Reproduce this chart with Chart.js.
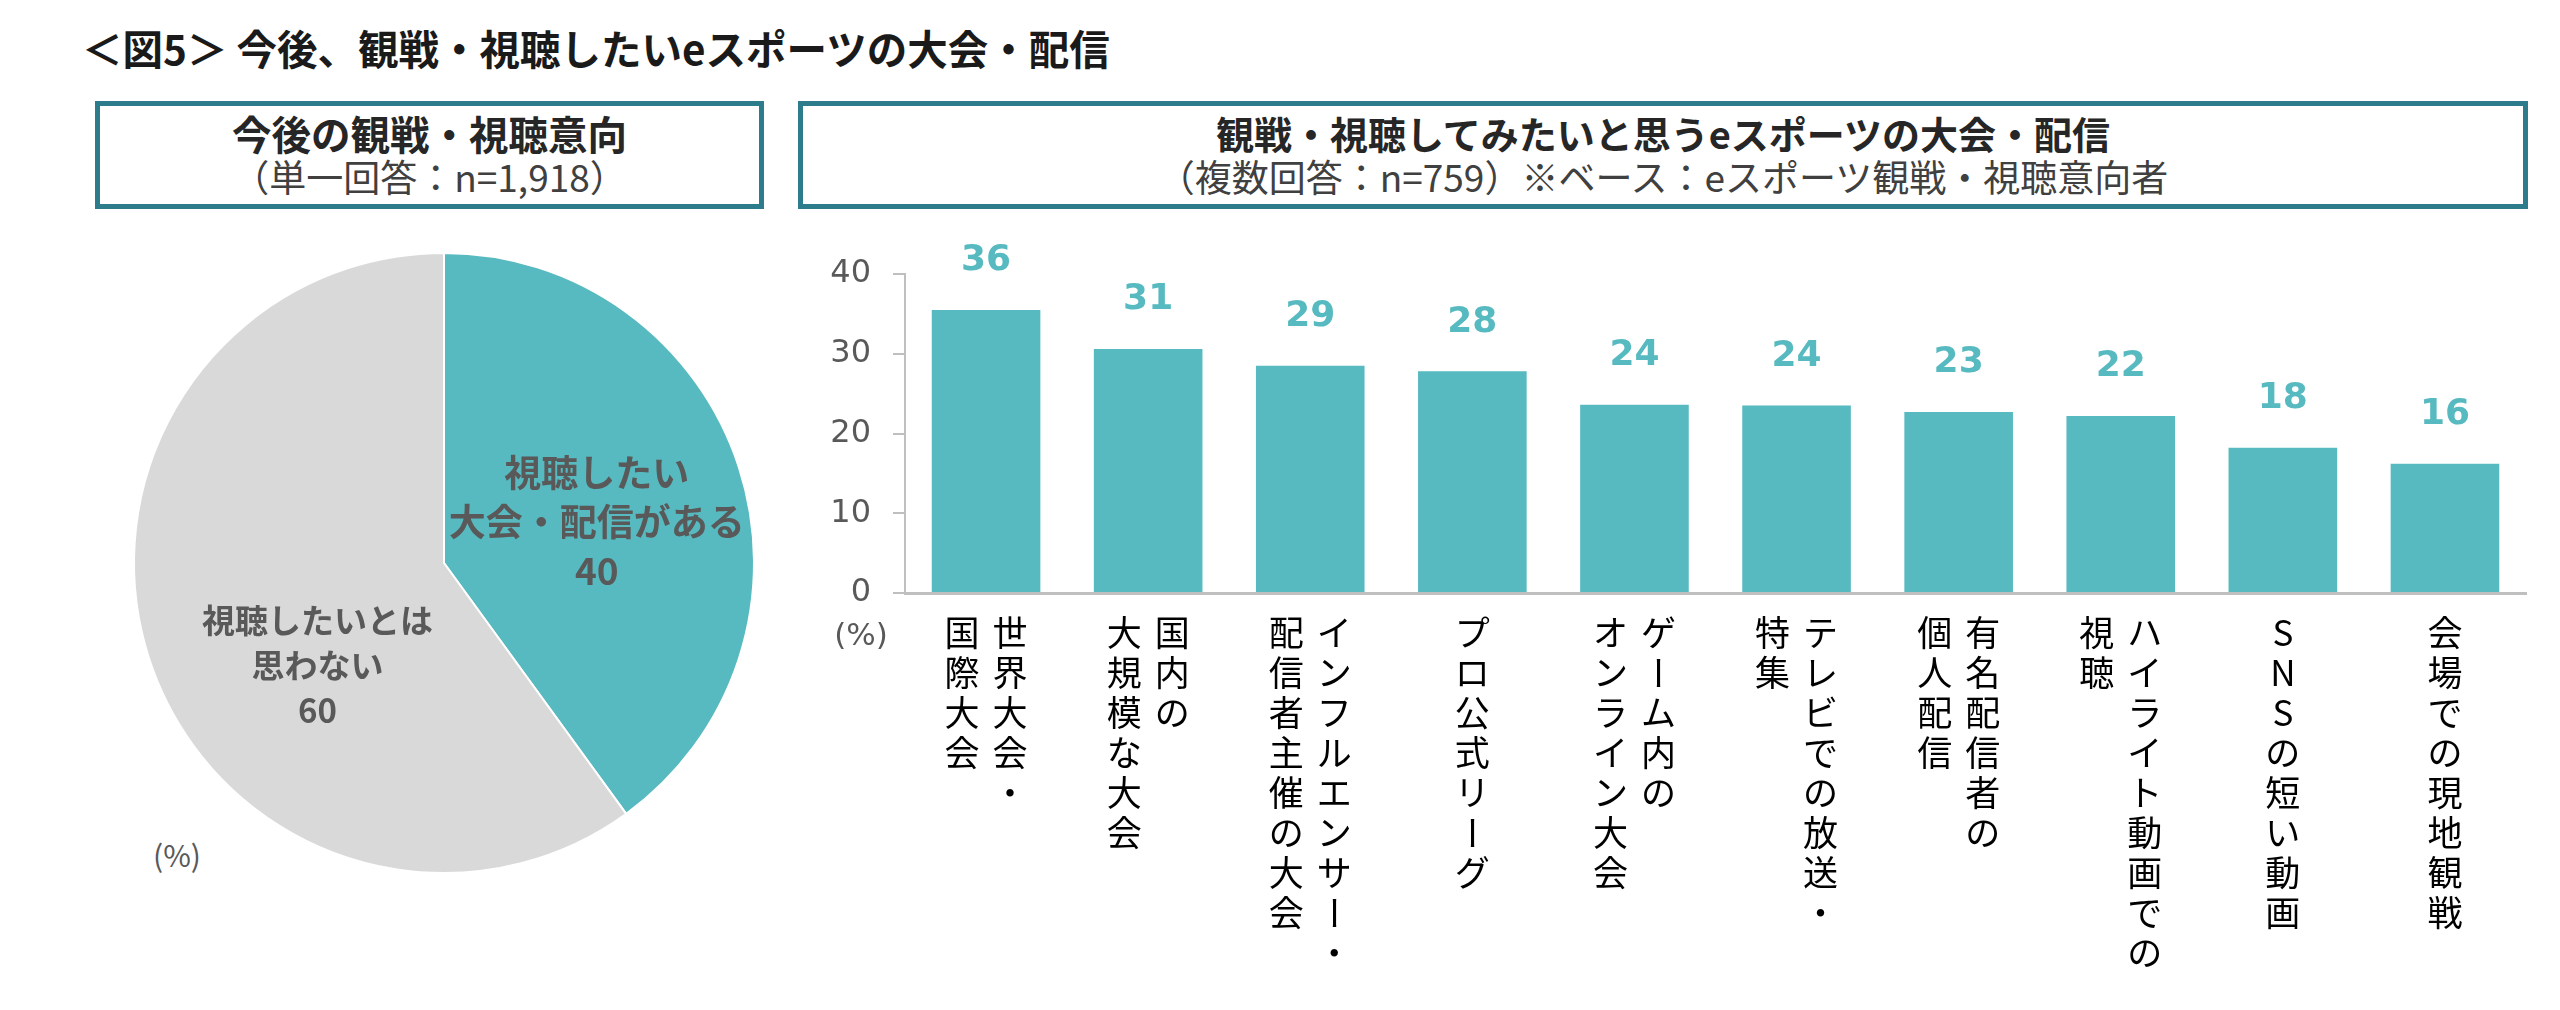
<!DOCTYPE html>
<html lang="ja">
<head>
<meta charset="utf-8">
<script src="https://cdn.jsdelivr.net/npm/chart.js@4.4.1/dist/chart.umd.min.js"></script>
<style>
  html, body { margin:0; padding:0; background:#fff; }
  body { width:2560px; height:1010px; position:relative; overflow:hidden; font-family:"Noto Sans CJK JP", sans-serif; }
  .title { position:absolute; left:82px; top:21px; font-size:40.5px; font-weight:700; color:#1a1a1a; line-height:54px; white-space:nowrap; }
  .box { position:absolute; box-sizing:border-box; border:5px solid #2C7C8C; text-align:center; }
  .box .h { font-size:38px; font-weight:700; color:#262626; line-height:44px; margin-top:5px; white-space:nowrap; }
  .box .s { font-size:37px; color:#404040; line-height:42px; white-space:nowrap; }
  .pct { position:absolute; font-size:30px; color:#595959; line-height:36px; }
  canvas { position:absolute; }
</style>
</head>
<body>
<div class="title">＜図5＞ 今後、観戦・視聴したいeスポーツの大会・配信</div>
<div class="box" style="left:95px; top:101px; width:669px; height:108px;">
  <div class="h" style="font-size:39.5px;">今後の観戦・視聴意向</div>
  <div class="s">（単一回答：n=1,918）</div>
</div>
<div class="box" style="left:798px; top:101px; width:1730px; height:108px;">
  <div class="h">観戦・視聴してみたいと思うeスポーツの大会・配信</div>
  <div class="s">（複数回答：n=759）※ベース：eスポーツ観戦・視聴意向者</div>
</div>
<div class="pct" style="left:153px; top:836px;">(%)</div>
<canvas id="pie" width="640" height="640" style="left:124px; top:243px;"></canvas>
<canvas id="bar" width="1760" height="790" style="left:800px; top:220px;"></canvas>
<script>
// ---- data ----
const pieCategories = ['視聴したい\n大会・配信がある', '視聴したいとは\n思わない'];
const pieValues = [40, 60];

const categories = [
  '世界大会・\n国際大会',
  '国内の\n大規模な大会',
  'インフルエンサー・\n配信者主催の大会',
  'プロ公式リーグ',
  'ゲーム内の\nオンライン大会',
  'テレビでの放送・\n特集',
  '有名配信者の\n個人配信',
  'ハイライト動画での\n視聴',
  'SNSの短い動画',
  '会場での現地観戦'
];
const values = [35.5, 30.6, 28.5, 27.8, 23.6, 23.5, 22.7, 22.2, 18.2, 16.2];
const yTicks = [0, 10, 20, 30, 40];

// ---- styles ----
const TEAL = '#57BAC0';
const GRAY = '#D9D9D9';
const JP = '"Noto Sans CJK JP", sans-serif';

// pie labels plugin
const pieLabelStyle = [
  { shiftDeg: 3, frac: 0.51, size: 37, lh: 49 },
  { shiftDeg: -21, frac: 0.525, size: 33, lh: 45 }
];
const pieLabelPlugin = {
  id: 'pieLabels',
  afterDatasetsDraw(chart) {
    const ctx = chart.ctx;
    const meta = chart.getDatasetMeta(0);
    meta.data.forEach((arc, i) => {
      const st = pieLabelStyle[i];
      const mid = (arc.startAngle + arc.endAngle) / 2 + st.shiftDeg * Math.PI / 180;
      const r = arc.outerRadius * st.frac;
      const x = arc.x + Math.cos(mid) * r;
      const y = arc.y + Math.sin(mid) * r;
      const lines = pieCategories[i].split('\n').concat([String(pieValues[i])]);
      ctx.save();
      ctx.fillStyle = '#595959';
      ctx.font = '700 ' + st.size + 'px ' + JP;
      ctx.textAlign = 'center';
      ctx.textBaseline = 'middle';
      const y0 = y - (lines.length - 1) / 2 * st.lh;
      lines.forEach((ln, k) => ctx.fillText(ln, x, y0 + k * st.lh));
      ctx.restore();
    });
  }
};

new Chart(document.getElementById('pie'), {
  type: 'pie',
  data: {
    labels: pieCategories,
    datasets: [{ data: pieValues, backgroundColor: [TEAL, GRAY], borderColor: '#ffffff', borderWidth: 2 }]
  },
  options: {
    responsive: false, animation: false, devicePixelRatio: 1,
    layout: { padding: 9 },
    plugins: { legend: { display: false }, tooltip: { enabled: false } }
  },
  plugins: [pieLabelPlugin]
});

// bar chart plugins
const barExtras = {
  id: 'barExtras',
  afterDraw(chart) {
    const ctx = chart.ctx;
    const xs = chart.scales.x;
    const ys = chart.scales.y;
    const meta = chart.getDatasetMeta(0);
    ctx.save();
    // value labels
    ctx.fillStyle = TEAL;
    ctx.font = '700 36px "DejaVu Sans", sans-serif';
    ctx.textAlign = 'center';
    ctx.textBaseline = 'middle';
    meta.data.forEach((bar, i) => {
      ctx.fillText(String(Math.round(values[i])), bar.x, bar.y - 49);
    });
    // vertical category labels
    const adv = 40, colGap = 48;
    ctx.fillStyle = '#000000';
    ctx.font = '35px ' + JP;
    categories.forEach((lab, i) => {
      const cx = xs.getPixelForTick(i);
      const lines = lab.split('\n');
      const n = lines.length;
      lines.forEach((line, j) => {
        const colX = cx + ((n - 1) / 2 - j) * colGap;
        Array.from(line).forEach((ch, k) => {
          const cy = ys.bottom + 20 + k * adv + adv / 2;
          if (ch === 'ー') {
            ctx.save();
            ctx.translate(colX, cy);
            ctx.rotate(Math.PI / 2);
            ctx.fillText(ch, 0, 0);
            ctx.restore();
          } else {
            ctx.fillText(ch, colX, cy);
          }
        });
      });
    });
    // (%) unit under y axis
    ctx.fillStyle = '#595959';
    ctx.font = '31px "DejaVu Sans", sans-serif';
    ctx.fillText('(%)', ys.right - 44, ys.bottom + 44);
    ctx.restore();
  }
};

new Chart(document.getElementById('bar'), {
  type: 'bar',
  data: {
    labels: categories,
    datasets: [{ data: values, backgroundColor: TEAL, categoryPercentage: 1, barPercentage: 0.67 }]
  },
  options: {
    responsive: false, animation: false, devicePixelRatio: 1,
    layout: { padding: { left: 0, right: 34, top: 54, bottom: 417 } },
    plugins: { legend: { display: false }, tooltip: { enabled: false } },
    scales: {
      x: {
        ticks: { display: false },
        grid: { display: false, drawTicks: false },
        border: { display: true, color: '#BFBFBF', width: 3 }
      },
      y: {
        min: 0, max: 40,
        afterBuildTicks(s) { s.ticks = yTicks.map(v => ({ value: v })); },
        ticks: { color: '#595959', font: { family: 'DejaVu Sans', size: 32 }, padding: 22 },
        grid: { display: true, drawOnChartArea: false, drawTicks: true, tickLength: 12, color: '#BFBFBF', lineWidth: 2 },
        border: { display: true, color: '#BFBFBF', width: 2 },
        afterFit(s) { s.width = 105; }
      }
    }
  },
  plugins: [barExtras]
});
</script>
</body>
</html>
